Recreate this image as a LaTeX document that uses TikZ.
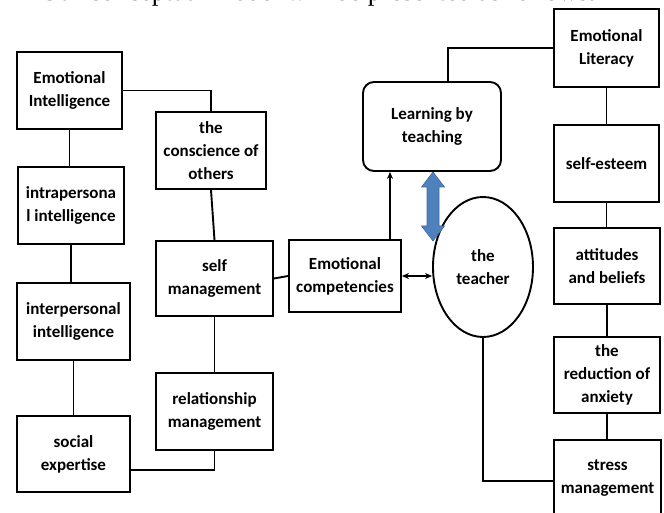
\documentclass[tikz,border=0pt]{standalone}
\usepackage{fontspec}
\setmainfont{Carlito}
\newfontfamily\serifhead{Liberation Serif}
\usetikzlibrary{arrows.meta,shapes.geometric}
\definecolor{arrowblue}{HTML}{4F81BD}
\definecolor{arrowedge}{HTML}{3C6A9E}
\tikzset{
  box/.style={draw, line width=1.9pt, inner sep=0pt, align=center,
    font=\fontsize{17}{23}\selectfont\bfseries},
  conn/.style={line width=1.9pt},
  tip/.style={line width=1.4pt, -{Stealth[length=7pt,width=6pt]}},
  tips/.style={line width=1.4pt, {Stealth[length=7pt,width=6pt]}-{Stealth[length=7pt,width=6pt]}},
}
\begin{document}
\begin{tikzpicture}[x=1pt,y=-1pt]
\clip (0,0) rectangle (664,513);
\fill[white] (0,0) rectangle (664,513);
% cut-off heading line
\node[anchor=base west, inner sep=0pt, font=\serifhead\fontsize{27}{30}\selectfont] (head) at (40,1) {Our conceptual model will be presented as follows:};
% left column
\node[box, minimum width=105pt, minimum height=77pt] (ei) at (69.5,90.5) {Emotional\\Intelligence};
\node[box, minimum width=106pt, minimum height=77pt] (intra) at (71,205.5) {intrapersona\\l intelligence};
\node[box, minimum width=113pt, minimum height=77pt] (inter) at (73.5,321.5) {interpersonal\\intelligence};
\node[box, minimum width=113pt, minimum height=76pt] (social) at (73.5,454) {social\\expertise};
% second column
\node[box, minimum width=110pt, minimum height=77pt] (consc) at (211,150.5) {the\\conscience of\\others};
\node[box, minimum width=117pt, minimum height=75pt] (selfm) at (214.5,278.5) {self\\management};
\node[box, minimum width=117pt, minimum height=77pt] (rel) at (214.5,411.5) {relationship\\management};
% middle
\node[box, minimum width=112pt, minimum height=72pt] (ec) at (345,276) {Emotional\\competencies};
\node[box, rounded corners=11pt, minimum width=138pt, minimum height=89pt] (lbt) at (432,126.5) {Learning by\\teaching};
\node[box, ellipse, minimum width=100pt, minimum height=140pt] (teacher) at (483,267) {the\\teacher};
% right column
\node[box, minimum width=105pt, minimum height=78pt] (el) at (606.5,48) {Emotional\\Literacy};
\node[box, minimum width=105pt, minimum height=77pt] (se) at (606.5,163.5) {self-esteem};
\node[box, minimum width=106pt, minimum height=76pt] (ab) at (607,266) {attitudes\\and beliefs};
\node[box, minimum width=106pt, minimum height=76pt] (ra) at (607,375) {the\\reduction of\\anxiety};
\node[box, minimum width=107pt, minimum height=77pt] (sm) at (607.5,478.5) {stress\\management};
% connectors
\draw[conn] (ei.east) -| (consc.north);
\draw[conn] (ei.south) -- (ei.south |- intra.north);
\draw[conn] (intra.south) -- (intra.south |- inter.north);
\draw[conn] (inter.south) -- (inter.south |- social.north);
\draw[conn] (consc.south) -- (selfm.north);
\draw[conn] (selfm.south) -- (rel.north);
\draw[conn] ([yshift=-16pt]social.east) -| (rel.south);
\draw[conn] (selfm.east) -- (ec.west);
\draw[tip] ([xshift=45pt]ec.north) -- ([xshift=45pt]ec.north |- lbt.south);
\draw[conn] ([xshift=16pt]lbt.north) |- (el.west);
\draw[tips] (ec.east) -- (ec.east -| teacher.west);
\draw[conn] (teacher.south) |- ([yshift=-2.5pt]sm.west);
\draw[conn] (el.south) -- (el.south |- se.north);
\draw[conn] (se.south) -- (se.south |- ab.north);
\draw[conn] (ab.south) -- (ab.south |- ra.north);
\draw[conn] (ra.south) -- (ra.south |- sm.north);
% blue double arrow
\coordinate (bt) at (433,172);
\coordinate (bb) at (433,241);
\filldraw[fill=arrowblue, draw=arrowedge, line width=0.6pt]
  (bt) -- ++(11.5,15) -- ++(-5.5,0) -- ++(0,39) -- ++(5.5,0) -- (bb)
  -- ++(-11.5,-15) -- ++(5.5,0) -- ++(0,-39) -- ++(-5.5,0) -- cycle;
\end{tikzpicture}
\end{document}
